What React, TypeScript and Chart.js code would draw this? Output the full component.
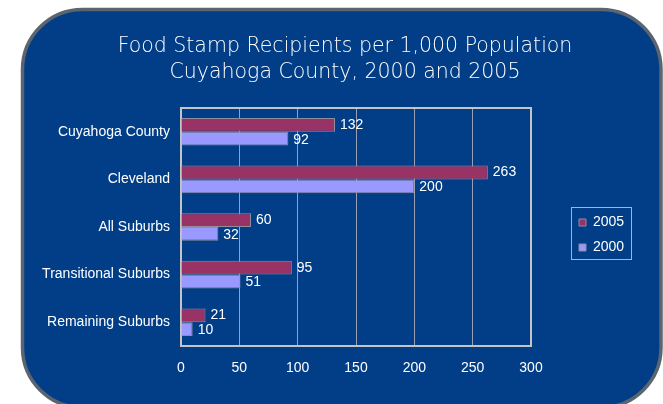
import React, { useEffect, useRef } from 'react';
import { Chart, registerables } from 'chart.js';

Chart.register(...registerables);

const categories = ['Cuyahoga County', 'Cleveland', 'All Suburbs', 'Transitional Suburbs', 'Remaining Suburbs'];
const seriesNames = ['2005', '2000'];
const values2005 = [132, 263, 60, 95, 21];
const values2000 = [92, 200, 32, 51, 10];
const xTicks = [0, 50, 100, 150, 200, 250, 300];
const titleLines = ['Food Stamp Recipients per 1,000 Population', 'Cuyahoga County, 2000 and 2005'];

const FONT = '"Liberation Sans", Arial, sans-serif';
const CARD_BLUE = '#013e87';
const CARD_BORDER = '#5b6570';

const cardPlugin = {
  id: 'card',
  beforeDraw(chart: any) {
    const ctx = chart.ctx;
    ctx.save();
    ctx.fillStyle = '#ffffff';
    ctx.fillRect(0, 0, chart.width, chart.height);
    const x = 22.5, y = 9.5, w = 638.5, h = 398, r = 60;
    ctx.beginPath();
    ctx.moveTo(x + r, y);
    ctx.lineTo(x + w - r, y);
    ctx.arcTo(x + w, y, x + w, y + r, r);
    ctx.lineTo(x + w, y + h - r);
    ctx.arcTo(x + w, y + h, x + w - r, y + h, r);
    ctx.lineTo(x + r, y + h);
    ctx.arcTo(x, y + h, x, y + h - r, r);
    ctx.lineTo(x, y + r);
    ctx.arcTo(x, y, x + r, y, r);
    ctx.closePath();
    ctx.fillStyle = CARD_BLUE;
    ctx.fill();
    ctx.lineWidth = 3.5;
    ctx.strokeStyle = CARD_BORDER;
    ctx.stroke();
    ctx.restore();
  },
};

const titlePlugin = {
  id: 'cardTitle',
  afterDraw(chart: any) {
    const ctx = chart.ctx;
    ctx.save();
    ctx.fillStyle = '#ffffff';
    ctx.font = '200 20.5px "DejaVu Sans", sans-serif';
    ctx.textAlign = 'center';
    ctx.textBaseline = 'middle';
    const cx = 345;
    titleLines.forEach((line, i) => ctx.fillText(line, cx, 47 + i * 26));
    ctx.restore();
  },
};

const plotBorderPlugin = {
  id: 'plotBorder',
  beforeDatasetsDraw(chart: any) {
    const { ctx, chartArea } = chart;
    ctx.save();
    ctx.strokeStyle = '#c4c4c4';
    ctx.lineWidth = 2;
    ctx.strokeRect(chartArea.left, chartArea.top, chartArea.right - chartArea.left, chartArea.bottom - chartArea.top);
    ctx.restore();
  },
};

const valueLabelPlugin = {
  id: 'valueLabels',
  afterDatasetsDraw(chart: any) {
    const ctx = chart.ctx;
    ctx.save();
    ctx.fillStyle = '#ffffff';
    ctx.font = '14px ' + FONT;
    ctx.textAlign = 'left';
    ctx.textBaseline = 'middle';
    chart.data.datasets.forEach((ds: any, di: number) => {
      const meta = chart.getDatasetMeta(di);
      meta.data.forEach((el: any, i: number) => {
        ctx.fillText(String(ds.data[i]), el.x + 5, el.y + (di === 1 ? 1 : 0));
      });
    });
    ctx.restore();
  },
};

const legendLayoutPlugin = {
  id: 'legendLayout',
  beforeLayout(chart: any) {
    const lg = chart.legend;
    if (lg && !lg.__patched) {
      const orig = lg.fit.bind(lg);
      lg.fit = function () {
        orig();
        this.width = 132;
      };
      lg.__patched = true;
    }
  },
  afterLayout(chart: any) {
    const lg = chart.legend;
    if (!lg) return;
    lg.left = 568;
    lg.right = 640;
    lg.top = 204;
    lg.bottom = 266;
    lg.width = 72;
    lg.height = 62;
  },
  afterDraw(chart: any) {
    const ctx = chart.ctx;
    ctx.save();
    ctx.strokeStyle = '#aab2c4';
    ctx.lineWidth = 1;
    ctx.strokeRect(571.5, 207.5, 60, 52);
    ctx.restore();
  },
};

export default function App() {
  const canvasRef = useRef<HTMLCanvasElement | null>(null);

  useEffect(() => {
    if (!canvasRef.current) return;
    const chart = new Chart(canvasRef.current, {
      type: 'bar',
      data: {
        labels: categories,
        datasets: [
          {
            label: seriesNames[0],
            data: values2005,
            backgroundColor: '#993366',
            borderColor: '#8e8e9e',
            borderWidth: 1,
            categoryPercentage: 0.58,
            barPercentage: 1.0,
          },
          {
            label: seriesNames[1],
            data: values2000,
            backgroundColor: '#9999ff',
            borderColor: '#8e8e9e',
            borderWidth: 1,
            categoryPercentage: 0.58,
            barPercentage: 1.0,
          },
        ],
      },
      options: {
        indexAxis: 'y',
        responsive: false,
        animation: false,
        maintainAspectRatio: false,
        layout: { padding: { top: 108, bottom: 28, left: 0, right: 0 } },
        plugins: {
          title: { display: false },
          tooltip: { enabled: false },
          legend: {
            display: true,
            position: 'right',
            labels: {
              color: '#ffffff',
              font: { size: 14, family: FONT },
              boxWidth: 7,
              boxHeight: 7,
              padding: 11,
            },
          },
        },
        scales: {
          x: {
            type: 'linear',
            min: xTicks[0],
            max: xTicks[xTicks.length - 1],
            afterBuildTicks: (s: any) => {
              s.ticks = xTicks.map((v) => ({ value: v }));
            },
            afterFit: (s: any) => {
              s.height = 30;
            },
            ticks: {
              color: '#ffffff',
              font: { size: 14, family: FONT },
              padding: 14,
              maxRotation: 0,
            },
            grid: { color: '#98a0b2', lineWidth: 1, drawTicks: false },
            border: { display: false },
          },
          y: {
            type: 'category',
            afterFit: (s: any) => {
              s.width = 181;
            },
            ticks: {
              color: '#ffffff',
              font: { size: 14, family: FONT },
              padding: 11,
            },
            grid: { display: false, drawTicks: false },
            border: { display: false },
          },
        },
      },
      plugins: [cardPlugin, plotBorderPlugin, valueLabelPlugin, legendLayoutPlugin, titlePlugin],
    } as any);
    return () => chart.destroy();
  }, []);

  return (
    <div style={{ position: 'fixed', left: 0, top: 0, width: 663, height: 404, background: '#fff' }}>
      <canvas ref={canvasRef} width={663} height={404} style={{ display: 'block', width: 663, height: 404 }} />
    </div>
  );
}
